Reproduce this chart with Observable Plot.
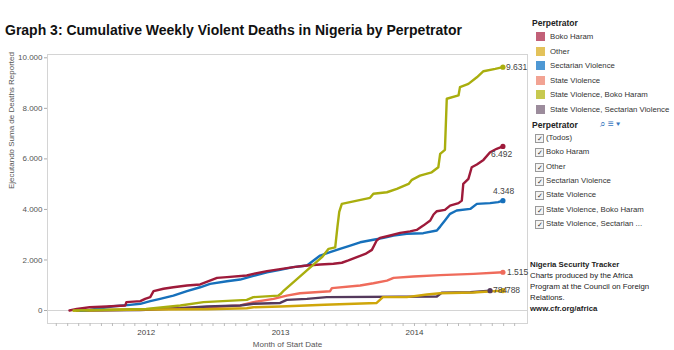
<!DOCTYPE html>
<html><head><meta charset="utf-8">
<script src="https://cdn.jsdelivr.net/npm/d3@7"></script>
<script src="https://cdn.jsdelivr.net/npm/@observablehq/plot@0.6"></script>
<style>
body{margin:0;background:#fff;font-family:"Liberation Sans",Arial,sans-serif;}
#wrap{position:relative;width:674px;height:350px;overflow:hidden;background:#fff;}
#chart{position:absolute;left:0;top:0;}
#title{position:absolute;left:5px;top:22px;font-weight:bold;font-size:14px;color:#111;white-space:nowrap;}
.lgh{position:absolute;left:532px;font-size:8.5px;font-weight:bold;color:#222;}
.sw{position:absolute;left:536px;width:9px;height:9px;}
.lt{position:absolute;left:550px;font-size:7.8px;color:#333;white-space:nowrap;line-height:10px;}
.cb{position:absolute;left:535px;width:7px;height:7px;border:1px solid #999;background:#f4f4f4;font-size:7px;line-height:7px;text-align:center;color:#333;}
.ct{position:absolute;left:546px;font-size:7.8px;color:#333;white-space:nowrap;line-height:10px;}
.note{position:absolute;left:530px;top:259px;font-size:7.8px;line-height:11px;color:#222;}
</style></head>
<body><div id="wrap"><div id="chart"></div><div id="title">Graph 3: Cumulative Weekly Violent Deaths in Nigeria by Perpetrator</div><div id="legend"></div></div>
<script>
const seriesNames = ["Boko Haram","Other","Sectarian Violence","State Violence","State Violence, Boko Haram","State Violence, Sectarian Violence"];
const lineColors = ["#9e1a3a","#cfa60a","#1670bb","#ef6b5b","#a9ae0e","#54395c"];
const swatchColors = ["#c26078","#e3c25a","#4e98d4","#f2a393","#c7c94f","#9c8c9c"];
const filterItems = ["(Todos)","Boko Haram","Other","Sectarian Violence","State Violence","State Violence, Boko Haram","State Violence, Sectarian ..."];
const yTicks = [0,2000,4000,6000,8000,10000];
const yearTicks = ["2012-01-01","2013-01-01","2014-01-01"];

const bokoHaram = [["2011-06-06",0],["2011-06-26",66],["2011-07-31",130],["2011-09-16",160],["2011-11-05",200],["2011-11-08",330],["2011-12-16",370],["2011-12-29",460],["2012-01-12",530],["2012-01-21",765],["2012-02-17",860],["2012-03-15",920],["2012-04-21",990],["2012-05-27",1030],["2012-06-19",1160],["2012-07-12",1290],["2012-08-08",1320],["2012-10-01",1385],["2012-10-19",1450],["2012-11-25",1560],["2012-12-31",1640],["2013-02-05",1715],["2013-03-14",1780],["2013-04-19",1820],["2013-05-25",1850],["2013-06-17",1890],["2013-07-05",1980],["2013-07-28",2110],["2013-08-20",2240],["2013-09-07",2400],["2013-09-20",2770],["2013-09-29",2875],["2013-10-27",2970],["2013-11-23",3070],["2013-12-20",3130],["2014-01-07",3190],["2014-01-25",3360],["2014-02-13",3560],["2014-02-22",3800],["2014-03-03",3930],["2014-03-25",3980],["2014-04-08",4150],["2014-05-01",4250],["2014-05-10",4350],["2014-05-14",5010],["2014-05-28",5210],["2014-06-06",5670],["2014-06-20",5780],["2014-07-08",5960],["2014-07-26",6265],["2014-08-13",6400],["2014-08-30",6492]];
const other = [["2011-06-17",0],["2012-01-01",40],["2012-06-14",50],["2012-10-01",90],["2012-10-19",130],["2013-01-01",160],["2013-05-01",230],["2013-09-20",300],["2013-10-07",530],["2013-12-11",530],["2014-02-04",635],["2014-03-12",685],["2014-06-11",710],["2014-08-30",788]];
const sectarian = [["2011-07-05",0],["2011-07-31",26],["2011-08-29",90],["2011-10-04",170],["2011-11-18",225],["2011-12-16",265],["2012-01-12",370],["2012-02-08",460],["2012-03-15",590],["2012-04-21",765],["2012-05-27",920],["2012-06-23",1055],["2012-08-08",1160],["2012-09-13",1225],["2012-10-19",1370],["2012-11-25",1515],["2012-12-31",1610],["2013-02-05",1715],["2013-03-14",1780],["2013-04-01",1980],["2013-04-19",2175],["2013-05-16",2310],["2013-06-12",2440],["2013-07-10",2570],["2013-08-06",2700],["2013-09-11",2800],["2013-10-09",2875],["2013-11-05",2970],["2013-12-11",3035],["2014-01-25",3060],["2014-03-03",3165],["2014-03-12",3320],["2014-03-25",3560],["2014-04-08",3825],["2014-04-26",3960],["2014-06-02",4020],["2014-06-20",4220],["2014-07-26",4250],["2014-08-17",4290],["2014-08-30",4348]];
const stateViolence = [["2011-06-26",0],["2011-12-16",40],["2012-06-14",130],["2012-09-13",200],["2012-10-19",330],["2012-12-13",460],["2013-01-18",590],["2013-02-23",685],["2013-05-16",765],["2013-05-21",885],["2013-08-06",990],["2013-09-11",1080],["2013-10-18",1185],["2013-11-05",1290],["2013-12-29",1345],["2014-03-12",1400],["2014-06-11",1450],["2014-08-30",1515]];
const svBokoHaram = [["2011-06-17",0],["2012-01-01",66],["2012-04-03",200],["2012-06-05",330],["2012-10-01",420],["2012-10-19",530],["2012-12-26",590],["2013-01-01",650],["2013-01-10",790],["2013-04-24",2110],["2013-05-12",2440],["2013-05-30",2500],["2013-06-05",3300],["2013-06-10",3900],["2013-06-17",4220],["2013-09-02",4460],["2013-09-11",4620],["2013-10-18",4680],["2013-11-14",4810],["2013-12-16",5010],["2013-12-25",5170],["2014-01-16",5340],["2014-02-17",5470],["2014-03-07",5670],["2014-03-12",6200],["2014-03-25",6360],["2014-03-30",8380],["2014-05-01",8510],["2014-05-05",8840],["2014-05-28",8970],["2014-06-20",9230],["2014-07-08",9470],["2014-08-09",9560],["2014-08-30",9631]];
const svSectarian = [["2011-06-26",0],["2011-12-16",20],["2012-04-03",90],["2012-06-14",160],["2012-09-13",200],["2012-10-19",265],["2012-12-31",300],["2013-01-18",420],["2013-03-14",460],["2013-05-07",530],["2014-03-03",555],["2014-03-16",700],["2014-06-02",725],["2014-07-26",784]];

const allSeries = [bokoHaram, other, sectarian, stateViolence, svBokoHaram, svSectarian];
// end-label offsets [dx, dy]
const labelOffsets = [[-12,8],[3,0],[-10,-9],[4,0],[3,0],[3,0]];

const rows = [];
allSeries.forEach((s,i)=>s.forEach(([d,v])=>rows.push({series:seriesNames[i],date:new Date(d+"T00:00:00Z"),value:v})));
const fmt = d3.formatLocale({decimal:",",thousands:".",grouping:[3],currency:["",""]}).format(",d");
const lasts = allSeries.map((s,i)=>({series:seriesNames[i],date:new Date(s[s.length-1][0]+"T00:00:00Z"),value:s[s.length-1][1],dx:labelOffsets[i][0],dy:labelOffsets[i][1]}));
const monthTicks = d3.utcMonths(new Date("2011-05-01T00:00:00Z"), new Date("2014-11-01T00:00:00Z"));
const drawOrder = [3,5,1,2,0,4];

const chart = Plot.plot({
  width: 530, height: 350,
  marginTop: 54, marginLeft: 47, marginRight: 3, marginBottom: 27,
  x: {type:"utc", domain:[new Date("2011-04-07T00:00:00Z"), new Date("2014-11-05T00:00:00Z")]},
  y: {domain:[-514,10131]},
  color: {domain: seriesNames, range: lineColors},
  style: {fontFamily:"Liberation Sans, Arial, sans-serif", fontSize:"8px", color:"#555", background:"transparent"},
  marks: [
    Plot.frame({stroke:"#d4d4d4"}),
    Plot.ruleY([0],{stroke:"#d4d4d4"}),
    Plot.axisY(yTicks,{tickFormat:fmt, tickSize:3, tickPadding:2, stroke:"#aaa", fill:"#555", label:null}),
    Plot.axisX(monthTicks,{tickSize:3, tickFormat:()=>"", stroke:"#bbb", label:null}),
    Plot.axisX(yearTicks.map(d=>new Date(d+"T00:00:00Z")),{tickSize:0, tickPadding:6, tickFormat:"%Y", fill:"#444", label:null}),
    Plot.text(["Month of Start Date"],{frameAnchor:"bottom", dy:23, fill:"#555", fontSize:8}),
    Plot.text(["Ejecutando Suma de Deaths Reported"],{frameAnchor:"left", dx:-36, rotate:-90, fill:"#555", fontSize:8}),
    ...drawOrder.map(i=>Plot.line(rows.filter(r=>r.series===seriesNames[i]),{x:"date", y:"value", stroke:"series", strokeWidth:2.4, strokeLinejoin:"round", strokeLinecap:"round"})),
    Plot.dot(lasts,{x:"date", y:"value", fill:"series", r:2.6}),
    ...lasts.map(l=>Plot.text([l],{x:"date", y:"value", text:d=>fmt(d.value), dx:l.dx, dy:l.dy, textAnchor:"start", fill:"#444", fontSize:8.5}))
  ]
});
document.getElementById("chart").appendChild(chart);

// legends
const lg = document.getElementById("legend");
let html = `<div class="lgh" style="top:18px">Perpetrator</div>`;
const swY = [32,46.5,61,75.5,90,104.5];
seriesNames.forEach((n,i)=>{
  html += `<div class="sw" style="top:${swY[i]}px;background:${swatchColors[i]}"></div><div class="lt" style="top:${swY[i]}px">${n}</div>`;
});
html += `<div class="lgh" style="top:120px">Perpetrator</div>`;
html += `<div style="position:absolute;left:600px;top:118px;font-size:10px;color:#3a78c0;letter-spacing:2px">⌕≡▾</div>`;
filterItems.forEach((n,i)=>{
  const y = 134 + i*14.3;
  html += `<div class="cb" style="top:${y}px">✓</div><div class="ct" style="top:${y-1}px">${n}</div>`;
});
html += `<div class="note"><b>Nigeria Security Tracker</b><br>Charts produced by the Africa<br>Program at the Council on Foreign<br>Relations.<br><b>www.cfr.org/africa</b></div>`;
lg.innerHTML = html;
</script>
</body></html>
